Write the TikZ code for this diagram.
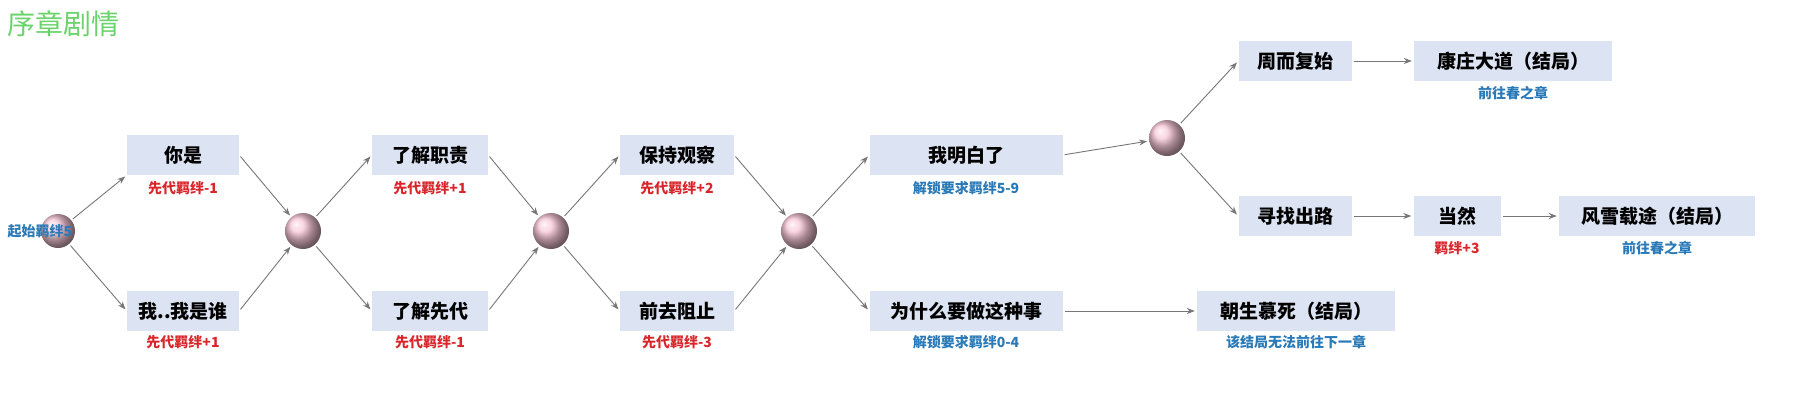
\documentclass[tikz,border=0pt]{standalone}
\usepackage{fontspec}
\setmainfont{Noto Sans CJK SC}
\usetikzlibrary{arrows.meta}
\definecolor{boxfill}{HTML}{DCE3F2}
\definecolor{redt}{HTML}{D9262B}
\definecolor{bluet}{HTML}{2A7AB8}
\definecolor{greent}{HTML}{6BD36B}
\definecolor{petal}{HTML}{F6C6D6}
\definecolor{arr}{HTML}{777777}
\begin{document}
\begin{tikzpicture}[x=1pt,y=-1pt,
  bx/.style={fill=boxfill,minimum height=40pt,inner xsep=6pt,font=\fontsize{19}{19}\selectfont\bfseries},
  rl/.style={text=redt,font=\fontsize{14}{14}\selectfont\bfseries},
  bl/.style={text=bluet,font=\fontsize{14}{14}\selectfont\bfseries},
  ar/.style={draw=arr,line width=0.9pt,-{Stealth[length=8pt,width=6pt]},shorten >=2pt,shorten <=2pt}]
\useasboundingbox (0,0) rectangle (1808,400);
\fill[white] (0,0) rectangle (1808,400);
\node[text=greent,font=\fontsize{28}{28}\selectfont,anchor=west] (title) at (4,24) {序章剧情};
% petals
\node[circle,inner sep=0pt,minimum size=34pt,ball color=petal] (p0) at (58,231) {};
\node[circle,inner sep=0pt,minimum size=36pt,ball color=petal] (p1) at (303,231) {};
\node[circle,inner sep=0pt,minimum size=36pt,ball color=petal] (p2) at (551,231) {};
\node[circle,inner sep=0pt,minimum size=36pt,ball color=petal] (p3) at (799,231) {};
\node[circle,inner sep=0pt,minimum size=36pt,ball color=petal] (p4) at (1167,138) {};
\node[bl,anchor=center] (start) at (40,231) {起始羁绊5};
% boxes
\node[bx,minimum width=112pt] (a1) at (183,155) {你是};
\node[rl] (a1l) at (183,188) {先代羁绊-1};
\node[bx,minimum width=112pt] (b1) at (183,311) {我..我是谁};
\node[rl] (b1l) at (183,342) {先代羁绊+1};
\node[bx,minimum width=116pt] (a2) at (430,155) {了解职责};
\node[rl] (a2l) at (430,188) {先代羁绊+1};
\node[bx,minimum width=116pt] (b2) at (430,311) {了解先代};
\node[rl] (b2l) at (430,342) {先代羁绊-1};
\node[bx,minimum width=114pt] (a3) at (677,155) {保持观察};
\node[rl] (a3l) at (677,188) {先代羁绊+2};
\node[bx,minimum width=114pt] (b3) at (677,311) {前去阻止};
\node[rl] (b3l) at (677,342) {先代羁绊-3};
\node[bx,minimum width=193pt] (a4) at (966,155) {我明白了};
\node[bl] (a4l) at (966,188) {解锁要求羁绊5-9};
\node[bx,minimum width=193pt] (b4) at (966,311) {为什么要做这种事};
\node[bl] (b4l) at (966,342) {解锁要求羁绊0-4};
\node[bx,minimum width=113pt] (c1) at (1295,61) {周而复始};
\node[bx,minimum width=198pt] (c2) at (1513,61) {康庄大道（结局）};
\node[bl] (c2l) at (1513,93) {前往春之章};
\node[bx,minimum width=113pt] (d1) at (1295,216) {寻找出路};
\node[bx,minimum width=87pt] (d2) at (1457,216) {当然};
\node[rl] (d2l) at (1457,248) {羁绊+3};
\node[bx,minimum width=196pt] (d3) at (1657,216) {风雪载途（结局）};
\node[bl] (d3l) at (1657,248) {前往春之章};
\node[bx,minimum width=198pt] (e1) at (1296,311) {朝生慕死（结局）};
\node[bl] (e1l) at (1296,342) {该结局无法前往下一章};
% arrows
\draw[ar] (p0) -- (a1.south west);
\draw[ar] (p0) -- (b1.west);
\draw[ar] (a1.east) -- (p1);
\draw[ar] (b1.east) -- (p1);
\draw[ar] (p1) -- (a2.west);
\draw[ar] (p1) -- (b2.west);
\draw[ar] (a2.east) -- (p2);
\draw[ar] (b2.east) -- (p2);
\draw[ar] (p2) -- (a3.west);
\draw[ar] (p2) -- (b3.west);
\draw[ar] (a3.east) -- (p3);
\draw[ar] (b3.east) -- (p3);
\draw[ar] (p3) -- (a4.west);
\draw[ar] (p3) -- (b4.west);
\draw[ar] (a4.east) -- (p4);
\draw[ar] (p4) -- (c1.west);
\draw[ar] (p4) -- (d1.west);
\draw[ar] (c1) -- (c2);
\draw[ar] (d1) -- (d2);
\draw[ar] (d2) -- (d3);
\draw[ar] (b4) -- (e1);
\end{tikzpicture}
\end{document}
